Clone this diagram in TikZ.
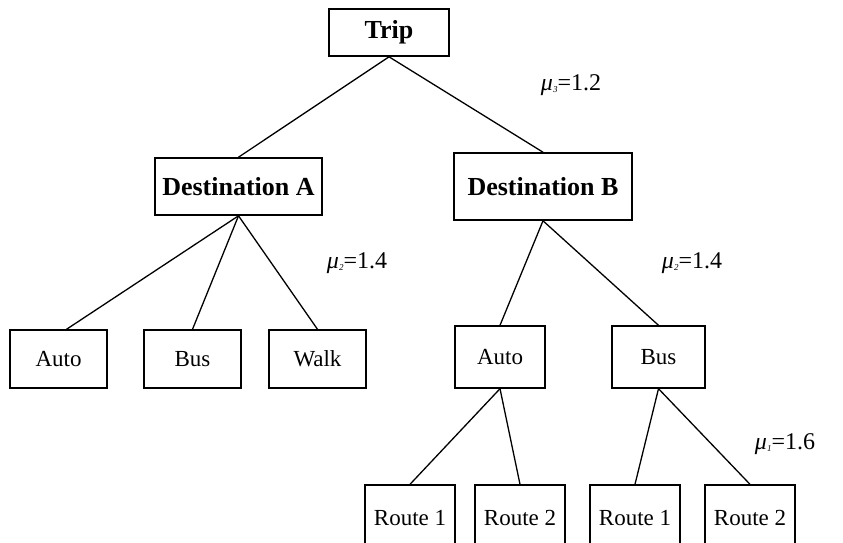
\documentclass[tikz,border=0pt]{standalone}
\usepackage{fontspec}
\setmainfont{Liberation Serif}
\newcommand{\mulab}[2]{\textit{μ}\raisebox{-2.5pt}{\fontsize{9}{9}\selectfont\textit{#1}}=#2}

\begin{document}
\begin{tikzpicture}[x=1pt,y=-1pt,
    nestbox/.style={draw,line width=1.6pt,inner sep=0pt,font=\fontsize{26}{26}\selectfont\bfseries},
    altbox/.style={draw,line width=1.4pt,inner sep=0pt,font=\fontsize{23}{23}\selectfont},
    routebox/.style={altbox,minimum width=90,minimum height=66},
    link/.style={line width=1.3pt},
    mulabel/.style={font=\fontsize{24}{24}\selectfont}]
            \useasboundingbox (0,0) rectangle (843,542);
            \clip (0,0) rectangle (843,542);
            \node[nestbox,minimum width=120,minimum height=47] (trip) at (389,32.5) {Trip};
            \node[nestbox,minimum width=167,minimum height=57] (destA) at (238.5,186.5) {Destination A};
            \node[nestbox,minimum width=178,minimum height=67] (destB) at (543,186.5) {Destination B};
            \node[altbox,minimum width=97,minimum height=58] (autoA) at (58.5,359) {Auto};
            \node[altbox,minimum width=97,minimum height=58] (busA) at (192.5,359) {Bus};
            \node[altbox,minimum width=97,minimum height=58] (walkA) at (317.5,359) {Walk};
            \node[altbox,minimum width=90,minimum height=62] (autoB) at (500,357) {Auto};
            \node[altbox,minimum width=93,minimum height=62] (busB) at (658.5,357) {Bus};
            \node[routebox] (r1) at (410,518) {Route 1};
            \node[routebox] (r2) at (520,518) {Route 2};
            \node[routebox] (r3) at (635,518) {Route 1};
            \node[routebox] (r4) at (750,518) {Route 2};
            \node[mulabel] (mu3) at (571,85) {\mulab{3}{1.2}};
            \node[mulabel] (mu2a) at (357,263) {\mulab{2}{1.4}};
            \node[mulabel] (mu2b) at (692,263) {\mulab{2}{1.4}};
            \node[mulabel] (mu1) at (785,444) {\mulab{1}{1.6}};
            \draw[link] (trip.south) to (destA.north);
            \draw[link] (trip.south) to (destB.north);
            \draw[link] (destA.south) to ([xshift=8]autoA.north);
            \draw[link] (destA.south) to (busA.north);
            \draw[link] (destA.south) to (walkA.north);
            \draw[link] (destB.south) to (autoB.north);
            \draw[link] (destB.south) to (busB.north);
            \draw[link] (autoB.south) to (r1.north);
            \draw[link] (autoB.south) to (r2.north);
            \draw[link] (busB.south) to (r3.north);
            \draw[link] (busB.south) to (r4.north);
          \end{tikzpicture}
\end{document}
